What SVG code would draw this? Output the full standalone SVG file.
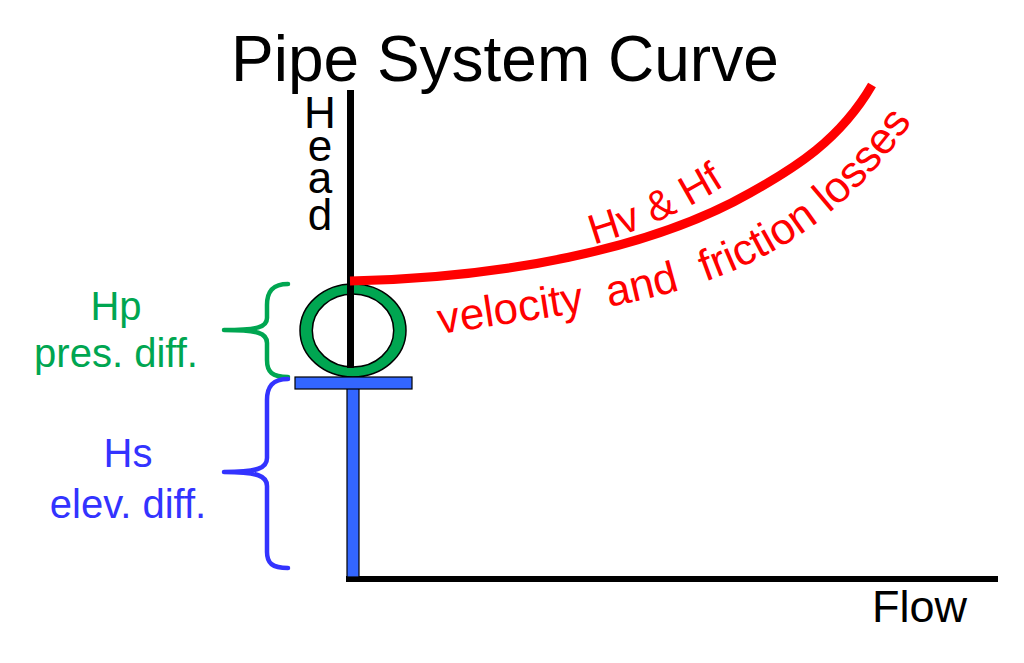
<svg xmlns="http://www.w3.org/2000/svg" width="1024" height="663" viewBox="0 0 1024 663">
  <defs>
    <style>
      text { font-family: "Liberation Sans", Arial, sans-serif; }
      .title { font-size: 64px; fill: #000; }
      .axislbl { font-size: 44px; fill: #000; }
      .green { fill: #00a651; font-size: 40px; }
      .blue { fill: #3333ff; font-size: 40px; }
      .red { fill: #ff0000; }
      .brace { fill: none; stroke-width: 4.5; stroke-linecap: round; stroke-linejoin: round; }
    </style>
    <path id="hvPath" d="M589,246 C645,230 702,205 757,163"/>
    <path id="lossPath" d="M436,335 C620,303 785,305 912,122"/>
  </defs>
  <rect width="1024" height="663" fill="#fff"/>

  <text class="title" x="231" y="81">Pipe System Curve</text>

  <g id="ring">
    <path d="M300,330.5 a53,46.5 0 1,0 106,0 a53,46.5 0 1,0 -106,0 Z M312.3,330.5 a40.7,36.5 0 1,0 81.4,0 a40.7,36.5 0 1,0 -81.4,0 Z" fill="#00a651" fill-rule="evenodd" stroke="#000" stroke-width="1.5"/>
  </g>

  <g id="axes">
    <rect x="347" y="90" width="7" height="278" fill="#000"/>
    <rect x="346" y="576" width="652" height="6" fill="#000"/>
  </g>

  <g id="tee">
    <rect x="347" y="388" width="12" height="189" fill="#3366ff" stroke="#000" stroke-width="1.2"/>
    <rect x="295" y="377" width="117" height="12" fill="#3366ff" stroke="#000" stroke-width="1.2"/>
  </g>

  <g id="head-label" class="axislbl" text-anchor="middle">
    <text x="320" y="128">H</text>
    <text x="320" y="161">e</text>
    <text x="320" y="193">a</text>
    <text x="320" y="230">d</text>
  </g>

  <g id="flow-label">
    <text class="axislbl" x="872" y="622" style="font-size:45px">Flow</text>
  </g>

  <g id="system-curve">
    <path d="M350,281 C500,278 650,250 750,193 C795,168 840,140 872,85" fill="none" stroke="#ff0000" stroke-width="9"/>
    <text class="red" style="font-size:42px"><textPath href="#hvPath" startOffset="5">Hv &amp; Hf</textPath></text>
    <text class="red" style="font-size:44px"><textPath href="#lossPath" startOffset="4" xml:space="preserve">velocity  and <tspan dx="14">friction losses</tspan></textPath></text>
  </g>

  <g id="hp">
    <path class="brace" stroke="#00a651" d="M288,284 C272,284 267,292 267,305 L267,318 C267,327 258,330 224,330 C258,330 267,333 267,343 L267,360 C267,372 272,377 288,377"/>
    <text class="green" x="116" y="320" text-anchor="middle">Hp</text>
    <text class="green" x="116" y="367" text-anchor="middle">pres. diff.</text>
  </g>

  <g id="hs">
    <path class="brace" stroke="#3333ff" d="M288,379 C272,379 267,387 267,400 L267,458 C267,468 258,472 224,472 C258,472 267,476 267,486 L267,552 C267,563 272,568 288,568"/>
    <text class="blue" x="128" y="467" text-anchor="middle">Hs</text>
    <text class="blue" x="128" y="518" text-anchor="middle">elev. diff.</text>
  </g>
</svg>
